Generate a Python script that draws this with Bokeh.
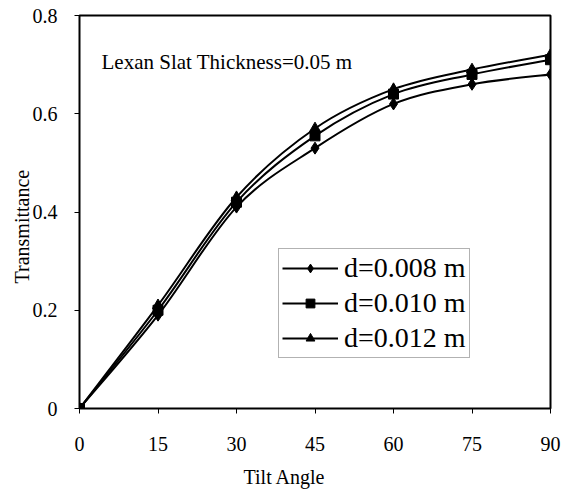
import math
from bokeh.plotting import figure
from bokeh.models import Range1d, FixedTicker, Legend, LegendItem, Label, ColumnDataSource, Title
from bokeh.embed import file_html
from bokeh.resources import INLINE

# ---- data ----
tilt = [0, 15, 30, 45, 60, 75, 90]
d008 = [0.0, 0.19, 0.41, 0.53, 0.62, 0.66, 0.68]
d010 = [0.0, 0.20, 0.42, 0.555, 0.64, 0.68, 0.71]
d012 = [0.0, 0.21, 0.43, 0.57, 0.65, 0.69, 0.72]
series_labels = ["d=0.008 m", "d=0.010 m", "d=0.012 m"]
x_ticks = [0, 15, 30, 45, 60, 75, 90]
y_ticks = [0, 0.2, 0.4, 0.6, 0.8]
y_tick_labels = ["0", "0.2", "0.4", "0.6", "0.8"]
note_text = "Lexan Slat Thickness=0.05 m"
x_title = "Tilt Angle"
y_title = "Transmittance"

FONT = "Liberation Serif"


def smooth_segments(xs, ys, t=1.0 / 6.0):
    """Excel-style smoothed line: cubic Bezier segments through the data points."""
    n = len(xs)
    out = dict(x0=[], y0=[], x1=[], y1=[], cx0=[], cy0=[], cx1=[], cy1=[])
    for i in range(n - 1):
        ip = max(i - 1, 0)
        inn = min(i + 2, n - 1)
        out["x0"].append(xs[i]); out["y0"].append(ys[i])
        out["x1"].append(xs[i + 1]); out["y1"].append(ys[i + 1])
        out["cx0"].append(xs[i] + (xs[i + 1] - xs[ip]) * t)
        out["cy0"].append(ys[i] + (ys[i + 1] - ys[ip]) * t)
        out["cx1"].append(xs[i + 1] - (xs[inn] - xs[i]) * t)
        out["cy1"].append(ys[i + 1] - (ys[inn] - ys[i]) * t)
    return ColumnDataSource(out)


p = figure(frame_width=471, frame_height=393,
           x_range=Range1d(0, 90), y_range=Range1d(0, 0.8),
           output_backend="svg", toolbar_location=None,
           min_border_left=79, min_border_right=13,
           min_border_top=15, min_border_bottom=85,
           background_fill_color="white", border_fill_color="white")

p.xgrid.visible = False
p.ygrid.visible = False
p.outline_line_color = "black"
p.outline_line_width = 2
p.outline_line_alpha = 1

for ax in (p.xaxis[0], p.yaxis[0]):
    ax.axis_line_color = None
    ax.major_tick_in = 0
    ax.major_tick_out = 5
    ax.major_tick_line_color = "black"
    ax.major_tick_line_width = 1
    ax.minor_tick_line_color = None
    ax.major_label_text_font = FONT
    ax.major_label_text_font_size = "20px"
    ax.major_label_text_color = "black"

p.xaxis[0].ticker = FixedTicker(ticks=x_ticks)
p.yaxis[0].ticker = FixedTicker(ticks=y_ticks)
p.yaxis[0].major_label_overrides = {v: s for v, s in zip(y_ticks, y_tick_labels)}
p.xaxis[0].major_label_standoff = 23
p.yaxis[0].major_label_standoff = 17
# blank spacer label: pushes the axis title a little lower
p.xaxis[0].axis_label = " "
p.xaxis[0].axis_label_text_font_size = "1px"
p.xaxis[0].axis_label_standoff = 4

# smoothed lines
all_series = [d008, d010, d012]
lines = []
for ys in all_series:
    src = smooth_segments(tilt, ys)
    r = p.bezier(x0="x0", y0="y0", x1="x1", y1="y1", cx0="cx0", cy0="cy0",
                 cx1="cx1", cy1="cy1", source=src, line_color="black", line_width=2)
    lines.append(r)

# markers (triangle first, square drawn last)
m012 = p.scatter(tilt, d012, marker="triangle", size=11, fill_color="black", line_color="black")
m008 = p.scatter(tilt, d008, marker="diamond", size=12, fill_color="black", line_color="black")
m010 = p.scatter(tilt, d010, marker="square", size=10, fill_color="black", line_color="black")

legend = Legend(items=[
    LegendItem(label=series_labels[0], renderers=[lines[0], m008]),
    LegendItem(label=series_labels[1], renderers=[lines[1], m010]),
    LegendItem(label=series_labels[2], renderers=[lines[2], m012]),
], location=(199, 50))
legend.label_text_font = FONT
legend.label_text_font_size = "28px"
legend.label_text_color = "black"
legend.glyph_width = 56
legend.glyph_height = 22
legend.label_height = 32
legend.label_standoff = 6
legend.padding = 3
legend.spacing = 3
legend.margin = 0
legend.border_line_color = "#666666"
legend.border_line_width = 1
legend.background_fill_color = "white"
legend.background_fill_alpha = 1
p.add_layout(legend)

p.add_layout(Label(x=22, y=347, x_units="screen", y_units="screen", text=note_text,
                   text_font=FONT, text_font_size="21px", text_color="black",
                   text_align="left", text_baseline="middle"))

p.add_layout(Title(text=x_title, align="left", offset=164, standoff=4,
                   text_font=FONT, text_font_size="20px", text_font_style="normal",
                   text_color="black"), "below")
p.add_layout(Title(text=y_title, align="left", offset=125, standoff=-6,
                   text_font=FONT, text_font_size="20px", text_font_style="normal",
                   text_color="black"), "left")

open("out.html", "w").write(file_html(p, INLINE))
